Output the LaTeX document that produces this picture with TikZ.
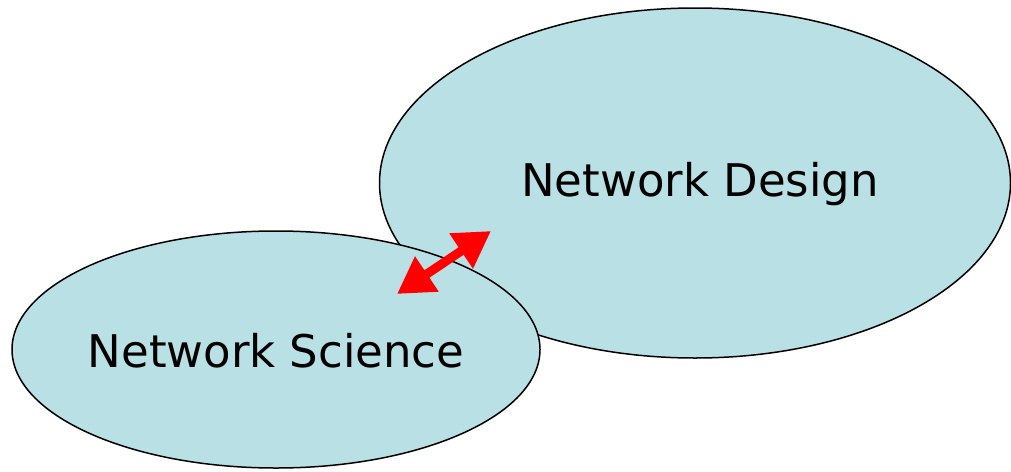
\documentclass[tikz,border=0pt]{standalone}
\usepackage{fontspec}
\setmainfont{DejaVu Sans}
\usetikzlibrary{arrows.meta}
\definecolor{blobfill}{RGB}{185,224,228}
\definecolor{arrowred}{RGB}{255,0,0}
\tikzset{
  blob/.style={draw=black, line width=1.5pt, fill=blobfill},
  blobtext/.style={font=\fontsize{45}{52}\selectfont, text=black},
  link/.style={draw=arrowred, line width=9pt, {Triangle[length=36pt,width=40pt]}-{Triangle[length=36pt,width=40pt]}}
}
\begin{document}
\begin{tikzpicture}[x=1pt,y=-1pt]
\useasboundingbox (0,0) rectangle (1011,471);
\draw[blob] (695,183) ellipse [x radius=315.5, y radius=175];
\draw[blob] (276,349.5) ellipse [x radius=264, y radius=118.5];
\node[blobtext] (design) at (700,184) {Network Design};
\node[blobtext] (science) at (276,351) {Network Science};
\coordinate (a) at (397,294);
\coordinate (b) at (491,231);
\draw[link] (a) -- (b);
\end{tikzpicture}
\end{document}
